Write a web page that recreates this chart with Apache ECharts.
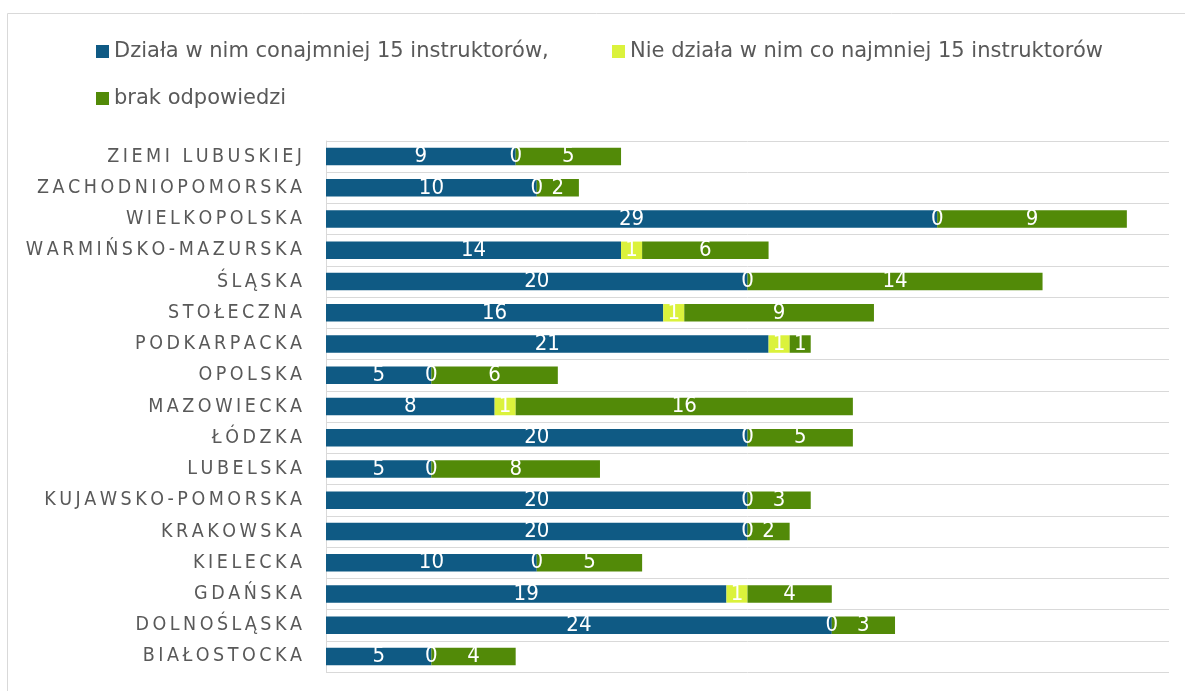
<!DOCTYPE html>
<html>
<head>
<meta charset="utf-8">
<script src="https://cdn.jsdelivr.net/npm/echarts@6/dist/echarts.min.js"></script>
<style>
  html, body { margin: 0; padding: 0; background: #fff; }
  #chart { width: 1185px; height: 691px; }
</style>
</head>
<body>
<div id="chart"></div>
<script>
// categories listed bottom to top (category axis starts at the bottom)
const categories = [
  'BIAŁOSTOCKA', 'DOLNOŚLĄSKA', 'GDAŃSKA', 'KIELECKA', 'KRAKOWSKA',
  'KUJAWSKO-POMORSKA', 'LUBELSKA', 'ŁÓDZKA', 'MAZOWIECKA', 'OPOLSKA',
  'PODKARPACKA', 'STOŁECZNA', 'ŚLĄSKA', 'WARMIŃSKO-MAZURSKA',
  'WIELKOPOLSKA', 'ZACHODNIOPOMORSKA', 'ZIEMI LUBUSKIEJ'
]
const seriesNames = [
  'Działa w nim conajmniej 15 instruktorów,',
  'Nie działa w nim co najmniej 15 instruktorów',
  'brak odpowiedzi'
]
const dziala = [5, 24, 19, 10, 20, 20, 5, 20, 8, 5, 21, 16, 20, 14, 29, 10, 9]
const nieDziala = [0, 0, 1, 0, 0, 0, 0, 0, 1, 0, 1, 1, 0, 1, 0, 0, 0]
const brak = [4, 3, 4, 5, 2, 3, 8, 5, 16, 6, 1, 9, 14, 6, 9, 2, 5]

const colors = ['#0f5a84', '#dbf23c', '#528a08']
const textColor = '#595959'
const gridColor = '#d9d9d9'

const chart = echarts.init(document.getElementById('chart'))

const legendText = {
  color: textColor,
  fontSize: 21,
  fontFamily: "'DejaVu Sans', sans-serif"
}
const makeLegend = (name, left, top) => ({
  data: [name],
  left: left,
  top: top,
  icon: 'rect',
  itemWidth: 13,
  itemHeight: 13,
  padding: 0,
  selectedMode: false,
  textStyle: legendText
})

const barLabel = {
  show: true,
  position: 'inside',
  color: '#fff',
  fontSize: 22,
  fontFamily: "'Liberation Sans Narrow', 'DejaVu Sans Condensed', sans-serif",
  textBorderWidth: 0
}
const makeSeries = (name, data, color) => ({
  name: name,
  type: 'bar',
  stack: 'total',
  barCategoryGap: '44%',
  itemStyle: { color: color },
  label: barLabel,
  data: data,
  animation: false
})

chart.setOption({
  animation: false,
  graphic: [{
    type: 'rect',
    shape: { x: 7.5, y: 13.5, width: 1200, height: 700 },
    style: { fill: 'none', stroke: gridColor, lineWidth: 1 },
    silent: true
  }],
  legend: [
    makeLegend(seriesNames[0], 96, 41),
    makeLegend(seriesNames[1], 612, 41),
    makeLegend(seriesNames[2], 96, 88)
  ],
  grid: {
    left: 326,
    right: 16,
    top: 141,
    bottom: 19,
    containLabel: false
  },
  xAxis: {
    type: 'value',
    min: 0,
    max: 40,
    show: false
  },
  yAxis: {
    type: 'category',
    data: categories,
    axisLine: { show: true, lineStyle: { color: gridColor, width: 1 } },
    axisTick: { show: false },
    splitLine: { show: true, lineStyle: { color: gridColor, width: 1 } },
    axisLabel: {
      color: textColor,
      fontSize: 19.5,
      margin: 24,
      fontFamily: "'DejaVu Sans Condensed', 'DejaVu Sans', sans-serif",
      formatter: (v) => v.split('').join('\u2009')
    }
  },
  series: [
    makeSeries(seriesNames[0], dziala, colors[0]),
    makeSeries(seriesNames[1], nieDziala, colors[1]),
    makeSeries(seriesNames[2], brak, colors[2])
  ]
})
</script>
</body>
</html>
